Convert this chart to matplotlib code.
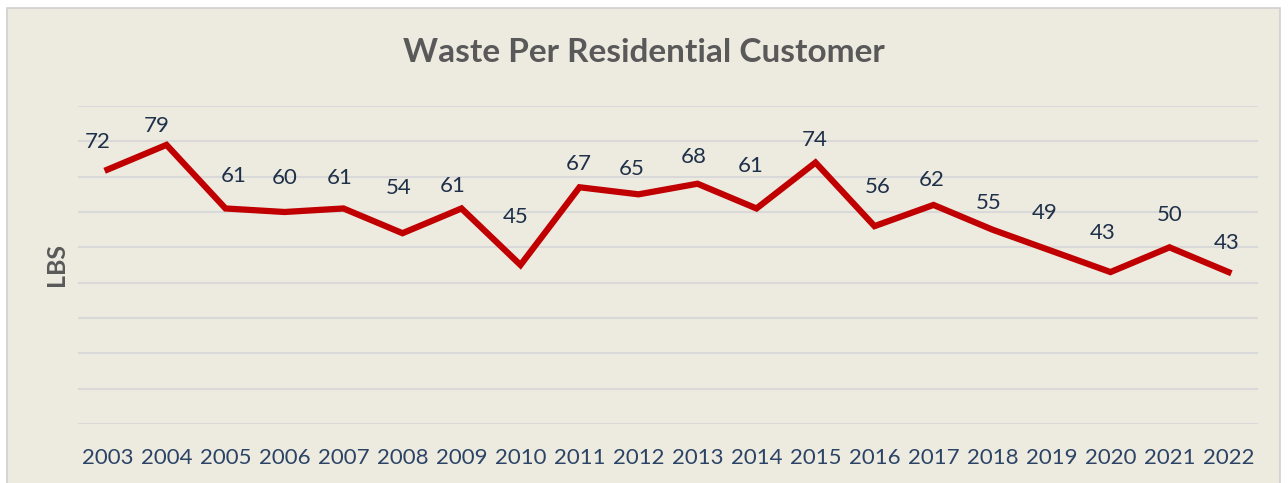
import matplotlib.pyplot as plt
from matplotlib.patches import Rectangle

plt.rcParams['font.family'] = ['Lato', 'DejaVu Sans']

years = ['2003', '2004', '2005', '2006', '2007', '2008', '2009', '2010', '2011', '2012',
         '2013', '2014', '2015', '2016', '2017', '2018', '2019', '2020', '2021', '2022']
lbs = [72, 79, 61, 60, 61, 54, 61, 45, 67, 65, 68, 61, 74, 56, 62, 55, 49, 43, 50, 43]

# label offsets from each point, in pixels (dx, dy up) - labels were hand placed
lbl_dx = [-10, -10, 8, 0, -4, -4, -9, -5, -1, -7, -4, -6, -1, 3, -2, -4, -7, -8, 0, -2]
lbl_dy = [28, 19, 32, 34, 30, 45, 22, 48, 23, 25, 27, 42, 23, 39, 25, 27, 38, 39, 32, 29]

bg = '#EDEAE0'
fig = plt.figure(figsize=(12.88, 4.83), dpi=100)
fig.patch.set_facecolor('white')
# chart area with thin grey border
fig.patches.append(Rectangle((7 / 1288, -0.05), 1273 / 1288, 1 - 8 / 483 + 0.05,
                             transform=fig.transFigure, facecolor=bg,
                             edgecolor='#D0D0D0', linewidth=1.2, zorder=-1))

ax = fig.add_axes([78 / 1288, 1 - 424 / 483, 1180 / 1288, 318 / 483])
ax.set_facecolor(bg)

x = list(range(len(years)))
ax.plot(x, lbs, color='#C00000', linewidth=4.5, solid_joinstyle='miter', zorder=3)

for i, v in enumerate(lbs):
    ax.annotate(str(v), (i, v), xytext=(lbl_dx[i], lbl_dy[i]), textcoords='offset pixels',
                ha='center', va='center', fontsize=16, color='#1F3049')

ax.set_xlim(-0.5, len(years) - 0.5)
ax.set_ylim(0, 90)
ax.set_yticks(range(0, 91, 10))
ax.set_yticklabels([])
ax.tick_params(axis='y', length=0)
ax.set_xticks(x)
ax.set_xticklabels(years, fontsize=16, color='#2B4466')
ax.tick_params(axis='x', length=0, pad=17)
ax.grid(axis='y', color='#D9D9D9', linewidth=1.5)
ax.set_axisbelow(True)
for s in ax.spines.values():
    s.set_visible(False)

ax.set_ylabel('LBS', fontsize=18, fontweight='bold', color='#595959', labelpad=4)
fig.text(0.5, 1 - 52 / 483, 'Waste Per Residential Customer', ha='center', va='center',
         fontsize=24, fontweight='bold', color='#595959')

fig.savefig('out.png', dpi=100, facecolor=fig.get_facecolor())
